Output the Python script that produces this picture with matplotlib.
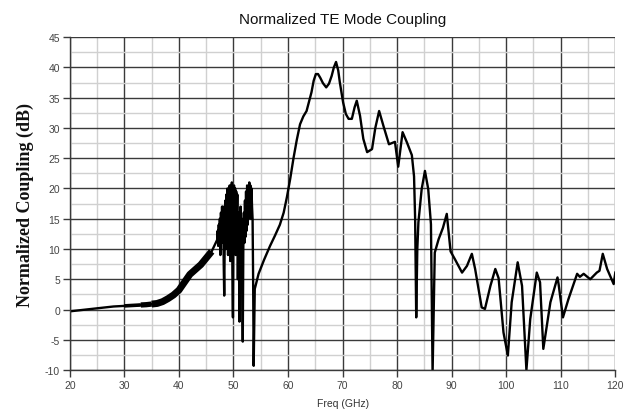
import matplotlib
matplotlib.use("Agg")
import matplotlib.pyplot as plt
from matplotlib.ticker import MultipleLocator

plt.rcParams["axes.unicode_minus"] = False

# ---- data ----
freq_ghz = [20, 22, 24, 26, 28, 30, 31, 32, 33, 34, 35, 36, 37, 38, 39, 40, 41, 42, 43, 44, 45, 46,
            47.0, 47.1, 47.2, 47.3, 47.4, 47.5, 47.6, 47.7, 47.8, 47.9,
            48.0, 48.1, 48.2, 48.3, 48.4, 48.5, 48.6, 48.7, 48.8, 48.9,
            49.0, 49.1, 49.2, 49.3, 49.4, 49.5, 49.6, 49.7, 49.8, 49.9,
            50.0, 50.1, 50.2, 50.3, 50.4, 50.5, 50.6, 50.7, 50.8, 50.9,
            51.0, 51.1, 51.2, 51.3, 51.4, 51.5, 51.6, 51.7, 51.8, 51.9,
            52.0, 52.1, 52.2, 52.3, 52.4, 52.5, 52.6, 52.7, 52.8, 52.9,
            53.0, 53.1, 53.2, 53.3, 53.4, 53.5, 53.6, 53.7,
            53.9, 54.6, 55.6, 56.7, 57.6, 58.5, 59.2, 59.8, 60.4, 61.0, 61.6, 62.2, 62.8, 63.4,
            64.3, 64.7, 65.1, 65.5, 65.9, 66.4, 67.0, 67.5, 68.0, 68.4, 68.8, 69.2,
            69.5, 70.1, 70.6, 71.1, 71.7, 72.2, 72.6, 73.2, 73.8, 74.5, 75.4, 76.0, 76.7, 77.5,
            78.5, 79.6, 80.2, 81.0, 81.8, 82.7, 83.1, 83.3, 83.5, 83.7, 83.9, 84.5, 85.1, 85.7,
            86.2, 86.5, 86.9, 87.6, 88.4, 89.1, 89.8, 90.6, 91.9, 92.8, 93.7, 94.3, 95.5, 96.1,
            97.1, 98.0, 98.6, 99.5, 100.3, 101.0, 102.1, 102.9, 103.7, 104.4, 105.6, 106.2,
            106.8, 108.1, 109.4, 109.6, 110.4, 111.4, 113.0, 113.5, 114.2, 115.4, 116.6, 117.1,
            117.7, 118.5, 119.7, 120]
coupling_db = [-0.3, -0.1, 0.1, 0.3, 0.5, 0.6, 0.65, 0.7, 0.75, 0.8, 0.9, 1.0, 1.3, 1.8, 2.4, 3.2, 4.5, 5.8, 6.6, 7.4, 8.5, 9.6,
               11.5, 13, 10.5, 14, 11, 15, 9, 16, 11, 17,
               12, 17, 8, 2.3, 12, 18, 10, 19, 12, 20,
               9, 19.5, 12, 20.5, 8, 20, 13, 21, 6, -1.3,
               14, 20.5, 11, 20, 9, 19.5, 13, 19, 5, 16,
               9, -2, 12, 17, 8, 15, 4, -5.3, 10, 16,
               11, 18, 12, 19.5, 13, 20.5, 14, 20, 15, 21,
               16, 20.5, 15, 20, 17, 15, 5, -9.3,
               3.4, 5.9, 8.2, 10.5, 12.2, 14.0, 16.0, 18.6, 21.6, 25.0, 28.0, 30.6, 31.9, 32.8,
               35.9, 37.8, 38.9, 38.9, 38.3, 37.4, 36.7, 37.3, 38.6, 40.0, 40.9, 39.5,
               37.5, 34.2, 32.3, 31.5, 31.5, 33.4, 34.5, 32.0, 28.2, 26.0, 26.5, 30.0, 32.8, 30.3,
               27.3, 27.7, 23.6, 29.3, 27.6, 25.5, 22.0, 15.0, -1.3, 10.0, 14.4, 19.9, 22.9, 19.9,
               14.1, -10.5, 9.4, 11.6, 13.5, 15.8, 9.6, 8.3, 6.1, 7.2, 9.2, 6.7, 0.35, 0.1,
               3.9, 6.7, 5.2, -3.8, -7.6, 1.2, 7.8, 3.9, -10.0, -1.6, 6.1, 4.5,
               -6.5, 1.2, 5.3, 4.2, -1.3, 1.7, 5.9, 5.4, 5.9, 5.0, 6.1, 6.4,
               9.2, 6.7, 4.2, 6.1]
thin_band_ghz = (29.9, 33.2)
mid_band_ghz = (32.8, 35.2)
thick_band_ghz = (34.8, 46.8)

x_ticks = list(range(20, 121, 10))
y_ticks = list(range(-10, 46, 5))

fig = plt.figure(figsize=(6.35, 4.1), dpi=100)
ax = fig.add_axes([0.110, 0.095, 0.859, 0.812])

ax.set_xlim(20, 120)
ax.set_ylim(-10, 45)
ax.set_xticks(x_ticks)
ax.set_yticks(y_ticks)
ax.xaxis.set_minor_locator(MultipleLocator(5))
ax.yaxis.set_minor_locator(MultipleLocator(2.5))
ax.grid(which="minor", color="#d0d0d0", linewidth=1.0)
ax.grid(which="major", color="#3a3a3a", linewidth=1.0)
ax.set_axisbelow(True)

for s in ("top", "right"):
    ax.spines[s].set_visible(False)
for s in ("left", "bottom"):
    ax.spines[s].set_color("#3a3a3a")
    ax.spines[s].set_linewidth(1.0)

ax.tick_params(which="major", direction="out", length=5, width=1, color="#3a3a3a",
               labelsize=7.5, labelcolor="#444444", pad=2)
ax.tick_params(which="minor", length=0)
for lab in ax.get_xticklabels() + ax.get_yticklabels():
    lab.set_family("Liberation Sans")

ax.plot(freq_ghz, coupling_db, color="black", linewidth=1.7, clip_on=True)


def band(lo, hi, lw):
    sx = [f for f in freq_ghz if lo <= f <= hi]
    sy = [v for f, v in zip(freq_ghz, coupling_db) if lo <= f <= hi]
    ax.plot(sx, sy, color="black", linewidth=lw, solid_capstyle="butt")


band(*thin_band_ghz, 2.6)
band(*mid_band_ghz, 3.8)
band(*thick_band_ghz, 5.0)

ax.set_title("Normalized TE Mode Coupling", fontsize=11, family="Liberation Sans",
             color="#111111", pad=10)
ax.set_xlabel("Freq (GHz)", fontsize=7.5, family="Liberation Sans", color="#333333", labelpad=6)
ax.set_ylabel("Normalized Coupling (dB)", fontsize=13, family="Liberation Serif",
              fontweight="bold", color="#111111", labelpad=8)

fig.savefig("out.png", dpi=100)
